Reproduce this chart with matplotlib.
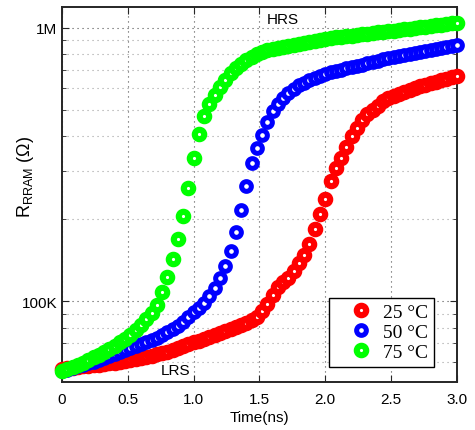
import matplotlib
matplotlib.use("Agg")
import matplotlib.pyplot as plt
from matplotlib.ticker import FixedLocator, FixedFormatter, LogLocator, NullFormatter

plt.rcParams['font.family'] = ['Liberation Sans', 'DejaVu Sans']
plt.rcParams['mathtext.fontset'] = 'custom'
plt.rcParams['mathtext.rm'] = 'Liberation Sans'

# time axis (ns), sampled every 0.04 ns
time_ns = [round(0.04 * i, 2) for i in range(76)]

# resistance in kOhm
r_25C = [56.5, 56.7, 57.0, 57.4, 57.7, 57.9, 58.4, 58.6, 58.9, 59.4,
         59.6, 59.9, 60.4, 60.9, 61.4, 61.9, 62.5, 63.0, 63.8, 64.6,
         65.4, 66.2, 67.4, 68.5, 69.7, 70.6, 71.4, 72.7, 73.9, 75.1,
         76.4, 77.7, 79.0, 80.4, 81.7, 83.1, 85.2, 87.4, 91.9, 97.5,
         105.2, 112.5, 117.3, 121.8, 128.7, 137.6, 147.2, 161.4, 183.1, 207.7,
         235.6, 274.1, 305.8, 332.6, 364.8, 400.1, 427.9, 457.7, 481.4, 502.0,
         519.2, 541.4, 555.3, 564.7, 574.2, 584.0, 593.9, 604.0, 611.7, 619.4,
         627.2, 635.2, 643.2, 651.4, 659.7, 668.1]

r_50C = [55.5, 56.2, 57.0, 57.7, 58.4, 59.4, 60.1, 60.9, 61.9, 63.0,
         64.1, 65.1, 66.2, 67.4, 68.5, 69.7, 70.9, 72.1, 73.3, 75.1,
         77.1, 79.0, 81.1, 83.8, 87.4, 91.2, 94.3, 98.3, 104.3, 111.5,
         121.3, 134.2, 152.2, 178.6, 214.8, 262.8, 318.9, 361.7, 403.5, 450.1,
         493.7, 527.9, 555.3, 579.1, 598.9, 619.4, 627.2, 645.9, 656.9, 668.1,
         679.3, 688.0, 696.7, 702.6, 711.5, 717.5, 726.6, 732.8, 742.0, 751.5,
         757.8, 767.4, 777.1, 783.7, 790.3, 797.0, 803.7, 810.5, 817.4, 824.2,
         831.2, 838.2, 845.3, 852.5, 859.6, 866.9]

r_75C = [55.5, 56.5, 57.4, 58.4, 59.6, 60.9, 62.2, 63.5, 65.1, 66.8,
         68.5, 70.6, 72.7, 75.1, 78.4, 81.7, 86.0, 90.4, 96.7, 107.8,
         122.3, 142.3, 168.4, 204.3, 258.4, 332.6, 406.9, 473.3, 527.9, 569.5,
         609.1, 645.9, 685.1, 714.5, 738.9, 764.2, 783.7, 803.7, 817.4, 827.7,
         838.2, 845.3, 852.5, 859.6, 866.9, 874.2, 881.6, 889.1, 896.5, 904.0,
         911.7, 919.4, 923.3, 927.2, 931.1, 935.0, 942.9, 946.8, 950.8, 958.9,
         962.9, 967.0, 971.0, 975.1, 983.3, 987.5, 991.6, 1000.0, 1004.2, 1008.4,
         1016.9, 1021.2, 1025.5, 1034.2, 1038.5, 1042.9]

series_labels = ['25 \u00b0C', '50 \u00b0C', '75 \u00b0C']
series_colors = ['#ff0000', '#0000ff', '#00ff00']
x_ticks = [0, 0.5, 1.0, 1.5, 2.0, 2.5, 3.0]
x_tick_labels = ['0', '0.5', '1.0', '1.5', '2.0', '2.5', '3.0']
y_ticks = [1e5, 1e6]
y_tick_labels = ['100K', '1M']

fig = plt.figure(figsize=(4.75, 4.31), dpi=100)
ax = fig.add_axes([0.1305, 0.1114, 0.8315, 0.870])

styles = [dict(ms=6.8, mew=4.4), dict(ms=7.0, mew=3.6), dict(ms=6.8, mew=4.4)]
for vals, lab, col, st in zip([r_25C, r_50C, r_75C], series_labels, series_colors, styles):
    ax.plot(time_ns, [v * 1e3 for v in vals], linestyle='none', marker='o',
            markerfacecolor='white', markeredgecolor=col, label=lab,
            clip_on=False, zorder=3, **st)

ax.set_yscale('log')
ax.set_xlim(0, 3.0)
ax.set_ylim(50.6e3, 1.19e6)

ax.xaxis.set_major_locator(FixedLocator(x_ticks))
ax.xaxis.set_major_formatter(FixedFormatter(x_tick_labels))
ax.yaxis.set_major_locator(FixedLocator(y_ticks))
ax.yaxis.set_major_formatter(FixedFormatter(y_tick_labels))
ax.yaxis.set_minor_locator(LogLocator(base=10, subs=range(2, 10)))
ax.yaxis.set_minor_formatter(NullFormatter())

ax.tick_params(which='both', direction='in', top=True, right=True, labelsize=11,
               colors='#262626')
ax.tick_params(which='major', length=5, width=0.8)
ax.tick_params(which='minor', length=3, width=0.6)
ax.tick_params(axis='x', pad=7)
for lbl in ax.get_xticklabels() + ax.get_yticklabels():
    lbl.set_color('black')

ax.grid(True, which='major', linestyle=(0, (1, 3.5)), color='#505050', linewidth=0.8)
ax.grid(True, which='minor', axis='y', linestyle=(0, (1, 3.5)), color='#a0a0a0', linewidth=0.8)
ax.set_axisbelow(True)

for sp in ax.spines.values():
    sp.set_linewidth(1.4)
    sp.set_color('#262626')

ax.set_xlabel('Time(ns)', fontsize=11, labelpad=3)
ax.set_ylabel(r'$\mathregular{R_{RRAM}}$ ($\Omega$)', fontsize=13)
ax.yaxis.set_label_coords(-0.065, 0.55)

ax.text(1.68, 1.08e6, 'HRS', fontsize=11, ha='center', va='center')
ax.text(0.866, 56.0e3, 'LRS', fontsize=11, ha='center', va='center')

leg = ax.legend(loc='lower right', bbox_to_anchor=(0.942, 0.04), borderaxespad=0,
                frameon=True, fancybox=False, edgecolor='black', framealpha=1,
                prop={'family': 'Liberation Serif', 'size': 14},
                handlelength=2.7, handletextpad=-0.2, labelspacing=0.12,
                borderpad=0.3, markerscale=1.0)
leg.get_frame().set_linewidth(1.0)

fig.savefig('out.png', dpi=100)
